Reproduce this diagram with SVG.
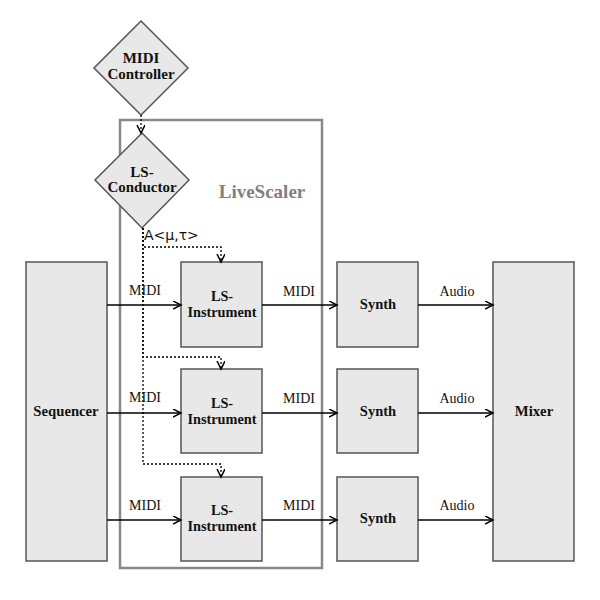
<svg xmlns="http://www.w3.org/2000/svg" width="600" height="600" viewBox="0 0 600 600">
<defs>
<marker id="arr" markerWidth="10" markerHeight="10" refX="8" refY="4" orient="auto" markerUnits="userSpaceOnUse">
<path d="M0,0 L8,4 L0,8" fill="none" stroke="#000" stroke-width="1.5"/>
</marker>
</defs>
<style>
.node{fill:#e8e8e8;stroke:#555;stroke-width:1.5}
.solid{fill:none;stroke:#000;stroke-width:1.3;marker-end:url(#arr)}
.dot{fill:none;stroke:#000;stroke-width:1.3;stroke-dasharray:2,2;marker-end:url(#arr)}
</style>
<rect width="600" height="600" fill="#fff"/>
<g id="livescaler">
<rect x="120" y="120" width="202" height="448" fill="none" stroke="#888" stroke-width="2.5"/>
<text x="262" y="198" font-family="Liberation Serif,serif" font-weight="bold" font-size="19" fill="#808080" text-anchor="middle">LiveScaler</text>
</g>
<g id="midi-controller">
<polygon class="node" points="141,21 188,68 141,115 94,68"/>
<text x="141" y="63" font-family="Liberation Serif,serif" font-weight="bold" font-size="15" fill="#111" text-anchor="middle">MIDI</text>
<text x="141" y="79" font-family="Liberation Serif,serif" font-weight="bold" font-size="15" fill="#111" text-anchor="middle">Controller</text>
</g>
<g id="ls-conductor">
<polygon class="node" points="142,133 189,180 142,228 95,180"/>
<text x="142" y="177" font-family="Liberation Serif,serif" font-weight="bold" font-size="15" fill="#111" text-anchor="middle">LS-</text>
<text x="142" y="192" font-family="Liberation Serif,serif" font-weight="bold" font-size="15" fill="#111" text-anchor="middle">Conductor</text>
</g>
<g id="sequencer">
<rect class="node" x="26" y="262" width="81" height="299"/>
<text x="66" y="416" font-family="Liberation Serif,serif" font-weight="bold" font-size="14.7" fill="#111" text-anchor="middle">Sequencer</text>
</g>
<g id="mixer">
<rect class="node" x="493" y="262" width="81" height="299"/>
<text x="534" y="416" font-family="Liberation Serif,serif" font-weight="bold" font-size="14.7" fill="#111" text-anchor="middle">Mixer</text>
</g>
<g id="ls-instrument-1">
<rect class="node" x="181" y="262" width="81" height="85"/>
<text x="222" y="301" font-family="Liberation Serif,serif" font-weight="bold" font-size="14.3" fill="#111" text-anchor="middle">LS-</text>
<text x="222" y="317" font-family="Liberation Serif,serif" font-weight="bold" font-size="14.3" fill="#111" text-anchor="middle">Instrument</text>
</g>
<g id="ls-instrument-2">
<rect class="node" x="181" y="369" width="81" height="84"/>
<text x="222" y="408" font-family="Liberation Serif,serif" font-weight="bold" font-size="14.3" fill="#111" text-anchor="middle">LS-</text>
<text x="222" y="424" font-family="Liberation Serif,serif" font-weight="bold" font-size="14.3" fill="#111" text-anchor="middle">Instrument</text>
</g>
<g id="ls-instrument-3">
<rect class="node" x="181" y="477" width="81" height="84"/>
<text x="222" y="515" font-family="Liberation Serif,serif" font-weight="bold" font-size="14.3" fill="#111" text-anchor="middle">LS-</text>
<text x="222" y="531" font-family="Liberation Serif,serif" font-weight="bold" font-size="14.3" fill="#111" text-anchor="middle">Instrument</text>
</g>
<g id="synth-1">
<rect class="node" x="337" y="262" width="81" height="85"/>
<text x="378" y="309" font-family="Liberation Serif,serif" font-weight="bold" font-size="14.5" fill="#111" text-anchor="middle">Synth</text>
</g>
<g id="synth-2">
<rect class="node" x="337" y="369" width="81" height="84"/>
<text x="378" y="416" font-family="Liberation Serif,serif" font-weight="bold" font-size="14.5" fill="#111" text-anchor="middle">Synth</text>
</g>
<g id="synth-3">
<rect class="node" x="337" y="477" width="81" height="84"/>
<text x="378" y="523" font-family="Liberation Serif,serif" font-weight="bold" font-size="14.5" fill="#111" text-anchor="middle">Synth</text>
</g>
<g id="connectors">
<path class="dot" d="M141,115 V133"/>
<path class="dot" d="M143,228 V247 H221 V262"/>
<path class="dot" d="M143,228 V357 H221 V369"/>
<path class="dot" d="M143,228 V464 H221 V477"/>
<text x="144" y="240" font-family="DejaVu Sans,sans-serif" font-size="14" fill="#111">A&lt;μ,τ&gt;</text>
<path class="solid" d="M107,305 H181"/>
<path class="solid" d="M107,413 H181"/>
<path class="solid" d="M107,520 H181"/>
<path class="solid" d="M262,305 H337"/>
<path class="solid" d="M262,413 H337"/>
<path class="solid" d="M262,520 H337"/>
<path class="solid" d="M418,305 H493"/>
<path class="solid" d="M418,413 H493"/>
<path class="solid" d="M418,520 H493"/>
<text x="145" y="295" font-family="Liberation Serif,serif" font-size="14" fill="#111" text-anchor="middle">MIDI</text>
<text x="145" y="402" font-family="Liberation Serif,serif" font-size="14" fill="#111" text-anchor="middle">MIDI</text>
<text x="145" y="510" font-family="Liberation Serif,serif" font-size="14" fill="#111" text-anchor="middle">MIDI</text>
<text x="299" y="296" font-family="Liberation Serif,serif" font-size="14" fill="#111" text-anchor="middle">MIDI</text>
<text x="299" y="403" font-family="Liberation Serif,serif" font-size="14" fill="#111" text-anchor="middle">MIDI</text>
<text x="299" y="510" font-family="Liberation Serif,serif" font-size="14" fill="#111" text-anchor="middle">MIDI</text>
<text x="457" y="296" font-family="Liberation Serif,serif" font-size="14" fill="#111" text-anchor="middle">Audio</text>
<text x="457" y="403" font-family="Liberation Serif,serif" font-size="14" fill="#111" text-anchor="middle">Audio</text>
<text x="457" y="510" font-family="Liberation Serif,serif" font-size="14" fill="#111" text-anchor="middle">Audio</text>
</g>
</svg>
